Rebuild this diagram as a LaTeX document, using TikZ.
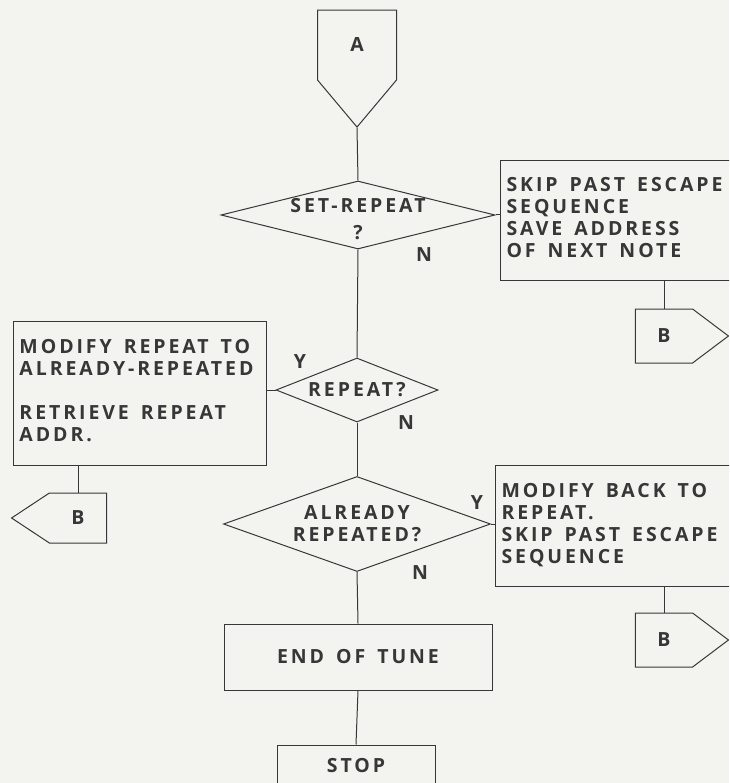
\documentclass[tikz,border=0pt]{standalone}
\usepackage{fontspec}
\setmainfont{Open Sans}[LetterSpace=15]
\usetikzlibrary{shapes.geometric}
\usetikzlibrary{shapes.symbols}
\definecolor{ink}{RGB}{55,55,55}
\definecolor{paper}{RGB}{243,243,239}
\newcommand\flowfont{\fontsize{19.5}{22}\selectfont\bfseries\spaceskip 12pt plus 2pt minus 1pt\relax}
\newcommand\boxlines[2]{\makebox[#1][l]{\begin{tabular}{@{}l@{}}#2\end{tabular}}}

\begin{document}
\begin{tikzpicture}[x=1pt,y=-1pt,line width=1pt,color=ink,font=\flowfont]
	\tikzstyle{procbox}=[draw,rectangle,anchor=north west,inner xsep=6pt,inner ysep=0pt]
	\tikzstyle{endbox}=[draw,rectangle,inner sep=0pt]
	\tikzstyle{decision}=[draw,diamond,inner sep=0pt]
	\tikzstyle{offpage}=[draw,signal,inner sep=0pt]
	\tikzstyle{every label}=[align=center,inner sep=0pt]

	\fill[paper] (0,0) rectangle (729,783);
	\useasboundingbox (0,0) rectangle (729,783);
	\clip (0,0) rectangle (729,783);

	\node[offpage,signal to=south,minimum width=79,minimum height=78,signal pointer angle=80] (a) at (357,45) {A};

	\node[decision,minimum width=274,minimum height=68,label={[yshift=-4pt]center:SET-REPEAT\\[5pt]?}] (setrep) at (358,215) {};
	\node[procbox,minimum width=260,minimum height=120] (skip) at (500,160) {\boxlines{248pt}{SKIP PAST ESCAPE\\SEQUENCE\\SAVE ADDRESS\\OF NEXT NOTE}};
	\node[offpage,signal to=east,minimum width=93,minimum height=54,signal pointer angle=74] (b1) at (664,336) {B};

	\node[decision,minimum width=162,minimum height=64,label={center:REPEAT?}] (rep) at (357,390) {};
	\node[procbox,minimum width=253,minimum height=144] (modrep) at (13,321) {\boxlines{241pt}{MODIFY REPEAT TO\\ALREADY-REPEATED\\[22pt]RETRIEVE REPEAT\\ADDR.}};
	\node[offpage,signal to=west,minimum width=95,minimum height=50,signal pointer angle=67] (b2) at (78,518) {B};

	\node[decision,minimum width=267,minimum height=95,label={center:ALREADY\\REPEATED?}] (alrep) at (357,524) {};
	\node[procbox,minimum width=260,minimum height=121] (modback) at (495,465) {\boxlines{248pt}{MODIFY BACK TO\\REPEAT.\\SKIP PAST ESCAPE\\SEQUENCE}};
	\node[offpage,signal to=east,minimum width=93,minimum height=54,signal pointer angle=74] (b3) at (664,640) {B};

	\node[endbox,minimum width=268,minimum height=66] (eot) at (358,657) {END OF TUNE};
	\node[endbox,minimum width=158,minimum height=42] (stop) at (356,766) {STOP};

	\node (n1) at (424,255) {N};
	\node (y1) at (300,362) {Y};
	\node (n2) at (406,423) {N};
	\node (y2) at (477,503) {Y};
	\node (n3) at (420,573) {N};

	\draw (a.south) -- (setrep.north);
	\draw (setrep.east) -- (skip.west |- setrep.east);
	\draw (b1.north) -- (b1.north |- skip.south);
	\draw (setrep.south) -- (rep.north);
	\draw (rep.west) -- (modrep.east |- rep.west);
	\draw (b2.north) -- (b2.north |- modrep.south);
	\draw (rep.south) -- (alrep.north);
	\draw (alrep.east) -- (modback.west |- alrep.east);
	\draw (b3.north) -- (b3.north |- modback.south);
	\draw (alrep.south) -- (eot.north);
	\draw (eot.south) -- (stop.north);
\end{tikzpicture}
\end{document}
